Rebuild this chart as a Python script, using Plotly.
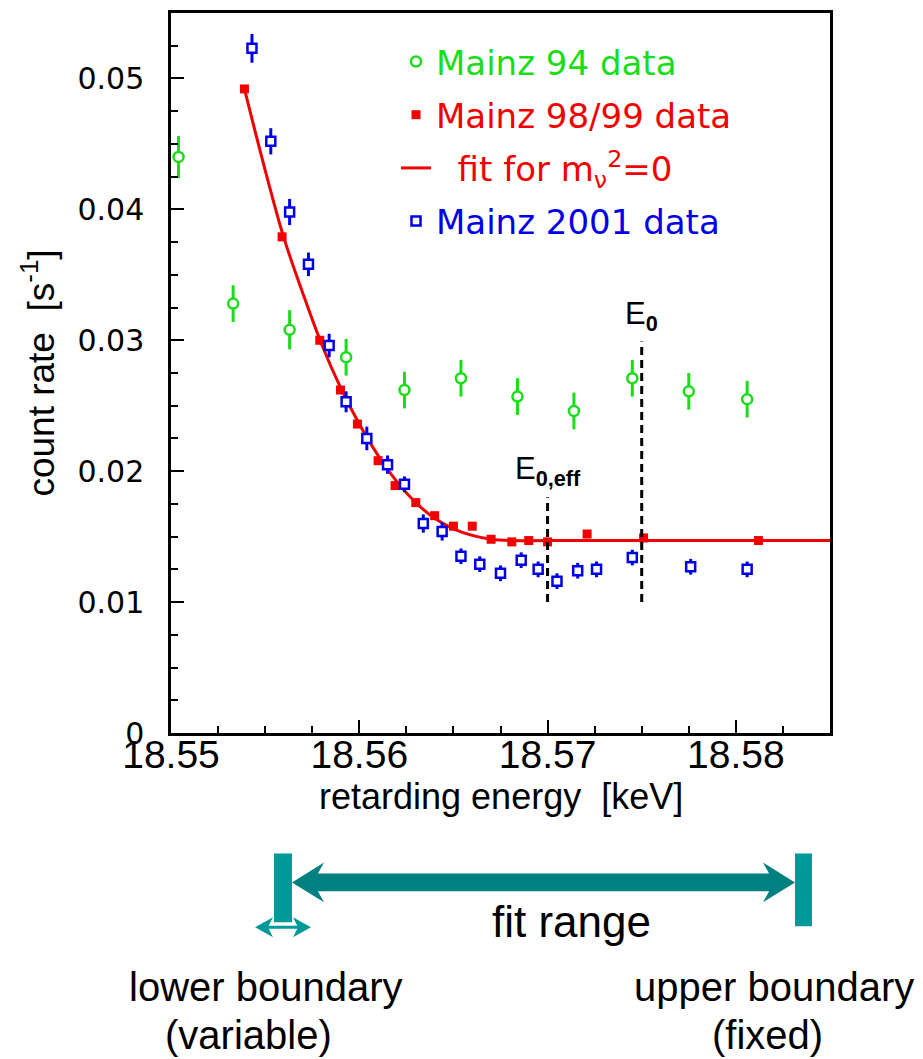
import plotly.graph_objects as go

# ---- measured spectra near the tritium endpoint ----
mainz94_energy = [18.5504, 18.5533, 18.5563, 18.5593, 18.5624, 18.5654,
                  18.5684, 18.5714, 18.5745, 18.5775, 18.5806]
mainz94_rate = [0.0440, 0.0328, 0.0308, 0.0287, 0.0262, 0.0271,
                0.0257, 0.0246, 0.0271, 0.0261, 0.0255]
mainz94_err = [0.0016, 0.0014, 0.0015, 0.0014, 0.0014, 0.0014,
               0.0014, 0.0014, 0.0014, 0.0014, 0.0014]

mainz98_energy = [18.5539, 18.5559, 18.5579, 18.5590, 18.5599, 18.5610,
                  18.5619, 18.5630, 18.5640, 18.5650, 18.5660, 18.5670,
                  18.5681, 18.5690, 18.5700, 18.5721, 18.5751, 18.5812]
mainz98_rate = [0.0492, 0.0379, 0.0300, 0.0262, 0.0236, 0.0208,
                0.0189, 0.0176, 0.0166, 0.0158, 0.0158, 0.0148,
                0.0146, 0.0147, 0.0146, 0.0152, 0.0149, 0.0147]

mainz01_energy = [18.5543, 18.5553, 18.5563, 18.5573, 18.5584, 18.5593,
                  18.5604, 18.5615, 18.5624, 18.5634, 18.5644, 18.5654,
                  18.5664, 18.5675, 18.5686, 18.5695, 18.5705, 18.5716,
                  18.5726, 18.5745, 18.5776, 18.5806]
mainz01_rate = [0.0523, 0.0452, 0.0398, 0.0358, 0.0296, 0.0253,
                0.0225, 0.0205, 0.0190, 0.0160, 0.0154, 0.0135,
                0.0129, 0.0122, 0.0132, 0.0125, 0.0116, 0.0124,
                0.0125, 0.0134, 0.0127, 0.0125]
mainz01_err = [0.0011, 0.0010, 0.0010, 0.0009, 0.0009, 0.0008,
               0.0009, 0.0007, 0.0006, 0.0007, 0.0007, 0.0006,
               0.0006, 0.0006, 0.0006, 0.0006, 0.0006, 0.0006,
               0.0006, 0.0006, 0.0006, 0.0006]

# fit curve for m_nu^2 = 0 (sampled)
fit_energy = [18.5539, 18.5550, 18.5560, 18.5570, 18.5580, 18.5590,
              18.5600, 18.5610, 18.5620, 18.5630, 18.5640, 18.5650,
              18.5660, 18.5670, 18.5680, 18.5700, 18.5850]
fit_rate = [0.0492, 0.0430, 0.0378, 0.0336, 0.0297, 0.0264,
            0.0236, 0.0212, 0.0192, 0.0176, 0.0164, 0.0156,
            0.0151, 0.0148, 0.0147, 0.0147, 0.0147]

# endpoint markers
E0_EFF = 18.570
E0 = 18.575
E0_EFF_SPAN = [0.0100, 0.0180]
E0_SPAN = [0.0100, 0.0299]

x_tickvals = [18.55, 18.56, 18.57, 18.58]
x_ticktext = ["18.55", "18.56", "18.57", "18.58"]
y_tickvals = [0, 0.01, 0.02, 0.03, 0.04, 0.05]
y_ticktext = ["0", "0.01", "0.02", "0.03", "0.04", "0.05"]

GREEN = "#19dd19"
RED = "#f20000"
BLUE = "#0000e6"
TEAL = "#009999"
TEAL_DARK = "#008080"

# ---- figure geometry ----
W, H = 923, 1059
M_L, M_R, M_T, M_B = 171, 93, 10, 326
PW = W - M_L - M_R
PH = H - M_T - M_B


def fx(x):
    """figure pixel column -> paper x"""
    return (x - M_L) / PW


def fy(y):
    """figure pixel row -> paper y"""
    return (H - M_B - y) / PH


def poly(points):
    return "M " + " L ".join(f"{fx(x):.5f},{fy(y):.5f}" for x, y in points) + " Z"


fig = go.Figure()

fig.add_trace(go.Scatter(
    x=mainz94_energy, y=mainz94_rate, mode="markers",
    name=f"<span style='color:{GREEN}'>Mainz 94 data</span>",
    legendgroup="g94",
    marker=dict(symbol="circle", size=10, color="white",
                line=dict(color=GREEN, width=2.5)),
    error_y=dict(type="data", array=mainz94_err, color=GREEN,
                 thickness=3, width=0),
))

fig.add_trace(go.Scatter(
    x=mainz98_energy, y=mainz98_rate, mode="markers",
    name=f"<span style='color:{RED}'>Mainz 98/99 data</span>",
    legendgroup="g98",
    marker=dict(symbol="square", size=9, color=RED, line=dict(width=0)),
))

fig.add_trace(go.Scatter(
    x=fit_energy, y=fit_rate, mode="lines",
    name=f"<span style='color:{RED}'>\u00a0\u00a0fit for m<sub>ν</sub><sup>2</sup>=0</span>",
    legendgroup="gfit",
    line=dict(color=RED, width=3, shape="spline", smoothing=1.0),
))

fig.add_trace(go.Scatter(
    x=mainz01_energy, y=mainz01_rate, mode="markers",
    name=f"<span style='color:{BLUE}'>Mainz 2001 data</span>",
    legendgroup="g01",
    marker=dict(symbol="square", size=9, color="white",
                line=dict(color=BLUE, width=2.5)),
    error_y=dict(type="data", array=mainz01_err, color=BLUE,
                 thickness=3, width=0),
))

shapes = []
# E0,eff and E0 dashed markers
shapes.append(dict(type="line", xref="x", yref="y", x0=E0_EFF, x1=E0_EFF,
                   y0=E0_EFF_SPAN[0], y1=E0_EFF_SPAN[1],
                   line=dict(color="black", width=3, dash="8px,5px")))
shapes.append(dict(type="line", xref="x", yref="y", x0=E0, x1=E0,
                   y0=E0_SPAN[0], y1=E0_SPAN[1],
                   line=dict(color="black", width=3, dash="8px,5px")))

# fit-range sketch below the axes
deco = dict(xref="paper", yref="paper", layer="above", line=dict(width=0))
shapes.append(dict(type="rect", x0=fx(274), x1=fx(292), y0=fy(923), y1=fy(854),
                   fillcolor=TEAL, **deco))
shapes.append(dict(type="rect", x0=fx(795), x1=fx(812), y0=fy(927), y1=fy(854),
                   fillcolor=TEAL, **deco))
shapes.append(dict(type="rect", x0=fx(312), x1=fx(776), y0=fy(892), y1=fy(874),
                   fillcolor=TEAL_DARK, **deco))
shapes.append(dict(type="path", path=poly([(292, 883), (324, 863), (313, 883), (324, 903)]),
                   fillcolor=TEAL_DARK, **deco))
shapes.append(dict(type="path", path=poly([(795, 883), (763, 863), (774, 883), (763, 903)]),
                   fillcolor=TEAL_DARK, **deco))
# small double arrow under the lower boundary
shapes.append(dict(type="rect", x0=fx(264), x1=fx(302), y0=fy(929.5), y1=fy(926.5),
                   fillcolor=TEAL, **deco))
shapes.append(dict(type="path", path=poly([(255, 928), (273, 918), (268, 928), (273, 938)]),
                   fillcolor=TEAL, **deco))
shapes.append(dict(type="path", path=poly([(311, 928), (293, 918), (298, 928), (293, 938)]),
                   fillcolor=TEAL, **deco))

TXT = "Liberation Sans, Arial, sans-serif"
NARROW = "Liberation Sans Narrow, Liberation Sans, Arial, sans-serif"
annotations = [
    dict(x=E0_EFF, y=E0_EFF_SPAN[1], xref="x", yref="y", yshift=4,
         text="E<sub><b>0,eff</b></sub>", showarrow=False,
         xanchor="center", yanchor="bottom",
         font=dict(family=NARROW, size=31, color="black")),
    dict(x=E0, y=E0_SPAN[1], xref="x", yref="y", yshift=4,
         text="E<sub><b>0</b></sub>", showarrow=False,
         xanchor="center", yanchor="bottom",
         font=dict(family=NARROW, size=31, color="black")),
    # x-axis title
    dict(x=0.5, y=fy(797), xref="paper", yref="paper",
         text="retarding energy  [keV]", showarrow=False,
         xanchor="center", yanchor="middle",
         font=dict(family=TXT, size=36, color="black")),
    dict(x=fx(571), y=fy(922), xref="paper", yref="paper", text="fit range",
         showarrow=False, xanchor="center", yanchor="middle",
         font=dict(family=TXT, size=44, color="black")),
    dict(x=fx(266), y=fy(988), xref="paper", yref="paper", text="lower boundary",
         showarrow=False, xanchor="center", yanchor="middle",
         font=dict(family=TXT, size=40, color="black")),
    dict(x=fx(248), y=fy(1036), xref="paper", yref="paper", text="(variable)",
         showarrow=False, xanchor="center", yanchor="middle",
         font=dict(family=TXT, size=40, color="black")),
    dict(x=fx(774), y=fy(988), xref="paper", yref="paper", text="upper boundary",
         showarrow=False, xanchor="center", yanchor="middle",
         font=dict(family=TXT, size=40, color="black")),
    dict(x=fx(767), y=fy(1036), xref="paper", yref="paper", text="(fixed)",
         showarrow=False, xanchor="center", yanchor="middle",
         font=dict(family=TXT, size=40, color="black")),
]

fig.update_layout(
    width=W, height=H, autosize=False,
    margin=dict(l=M_L, r=M_R, t=M_T, b=M_B, pad=0),
    paper_bgcolor="white", plot_bgcolor="white",
    showlegend=True,
    legend=dict(x=fx(396), y=fy(30), xanchor="left", yanchor="top",
                bgcolor="rgba(0,0,0,0)", borderwidth=0,
                font=dict(family="DejaVu Sans, sans-serif", size=34),
                tracegroupgap=6, itemsizing="trace"),
    shapes=shapes,
    annotations=annotations,
)

fig.update_xaxes(
    range=[18.55, 18.585], tickvals=x_tickvals, ticktext=x_ticktext,
    showline=True, linecolor="black", linewidth=2.5, mirror=True,
    ticks="inside", ticklen=13, tickwidth=2, tickcolor="black",
    minor=dict(dtick=0.0025, ticks="inside", ticklen=7, tickwidth=2,
               tickcolor="black", showgrid=False),
    showgrid=False, zeroline=False,
    tickfont=dict(family=TXT, size=39, color="black"),
    ticklabelstandoff=-15,
)
fig.update_yaxes(
    range=[0, 0.055], tickvals=y_tickvals, ticktext=y_ticktext,
    showline=True, linecolor="black", linewidth=2.5, mirror=True,
    ticks="inside", ticklen=13, tickwidth=2, tickcolor="black",
    minor=dict(dtick=0.0025, ticks="inside", ticklen=7, tickwidth=2,
               tickcolor="black", showgrid=False),
    showgrid=False, zeroline=False,
    tickfont=dict(family="DejaVu Sans, sans-serif", size=30, color="black"),
    ticklabelstandoff=18,
    title=dict(text="count rate  [s<sup>-1</sup>]", standoff=12,
               font=dict(family=TXT, size=37, color="black")),
)

fig.write_html("out.html")
